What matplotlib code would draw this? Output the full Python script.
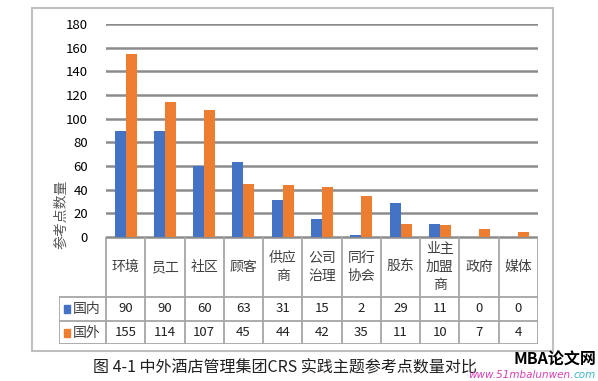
import matplotlib.pyplot as plt
from matplotlib.patches import Rectangle

plt.rcParams['font.family'] = ['Noto Sans CJK SC', 'DejaVu Sans']

categories = ['环境', '员工', '社区', '顾客', '供应\n商', '公司\n治理', '同行\n协会', '股东', '业主\n加盟\n商', '政府', '媒体']
domestic = [90, 90, 60, 63, 31, 15, 2, 29, 11, 0, 0]
foreign = [155, 114, 107, 45, 44, 42, 35, 11, 10, 7, 4]
series_names = ['国内', '国外']
colors = ['#4472C4', '#ED7D31']
yticks = [0, 20, 40, 60, 80, 100, 120, 140, 160, 180]

W, H = 598, 381
fig = plt.figure(figsize=(W / 100, H / 100), dpi=100)

def box(x0, y0, x1, y1):
    # pixel box (top-left origin) -> figure fraction rect
    return [x0 / W, 1 - y1 / H, (x1 - x0) / W, (y1 - y0) / H]

# outer frame
fig.patches.append(Rectangle((32 / W, 1 - 351 / H), (553 - 32) / W, (351 - 8) / H,
                             transform=fig.transFigure, fill=False,
                             edgecolor='#bfbfbf', lw=1.5))

n = len(categories)
x = list(range(n))
bw = 0.28

ax = fig.add_axes(box(106, 24, 538, 237))
ax.bar([i - bw / 2 for i in x], domestic, bw, color=colors[0], zorder=3)
ax.bar([i + bw / 2 for i in x], foreign, bw, color=colors[1], zorder=3)
ax.set_xlim(-0.5, n - 0.5)
ax.set_ylim(0, 180)
ax.set_yticks(yticks)
ax.set_xticks([])
ax.tick_params(axis='y', length=0, labelsize=9.5, pad=13)
ax.grid(axis='y', color='#8c8c8c', lw=1.8, zorder=0)
for s in ax.spines.values():
    s.set_visible(False)
ax.set_ylabel('参考点数量', fontsize=10, color='#595959', labelpad=2)
ax.yaxis.set_label_coords(-0.088, 0.108)

# data table
label_w = (106 - 59) / ((538 - 106) / n)
tab = fig.add_axes(box(59, 237, 538, 344))
tab.set_xlim(-0.5 - label_w, n - 0.5)
tab.set_ylim(107, 0)
tab.axis('off')
lc = '#a6a6a6'
tab.plot([-0.5, n - 0.5], [0, 0], color='#8c8c8c', lw=1.8)
for i in range(n + 1):
    tab.plot([i - 0.5, i - 0.5], [0, 107], color=lc, lw=1.3)
tab.plot([-0.5 - label_w] * 2, [60, 107], color=lc, lw=1.3)
for yy in [60, 84, 107]:
    tab.plot([-0.5 - label_w, n - 0.5], [yy, yy], color=lc, lw=1.3)
for i, c in enumerate(categories):
    tab.text(i, 30, c, ha='center', va='center', fontsize=10, color='#404040', linespacing=1.35)
unit = (538 - 106) / n
for r, (vals, name, col) in enumerate(zip([domestic, foreign], series_names, colors)):
    yc = 72 + r * 23.5
    x0 = -0.5 - label_w + 5 / unit
    tab.add_patch(Rectangle((x0, yc - 4), 6 / unit, 8, color=col))
    tab.text(-0.5 - label_w + 14 / unit, yc, name, color='#404040', fontsize=10, ha='left', va='center')
    for i, v in enumerate(vals):
        tab.text(i, yc, str(v), ha='center', va='center', fontsize=9.5, color='#202020')

# caption and watermark
fig.text(93 / W, 1 - 368 / H, '图 4-1 中外酒店管理集团CRS 实践主题参考点数量对比',
         fontsize=11.5, ha='left', va='center', color='#202020')
fig.text(596 / W, 1 - 360 / H, 'MBA论文网', fontsize=11.5, fontweight='bold', style='italic',
         ha='right', va='center', color='black')
com = fig.text(596 / W, 1 - 375 / H, 'com', fontsize=7.5, style='italic',
               ha='right', va='center', color='#3cb4c8', family='DejaVu Sans')
r = fig.canvas.get_renderer()
left = com.get_window_extent(r).x0
fig.text(left / (W), 1 - 375 / H, 'www.51mbalunwen.', fontsize=7.5, style='italic',
         ha='right', va='center', color='#d63fb5', family='DejaVu Sans')

fig.savefig('out.png', dpi=100)
